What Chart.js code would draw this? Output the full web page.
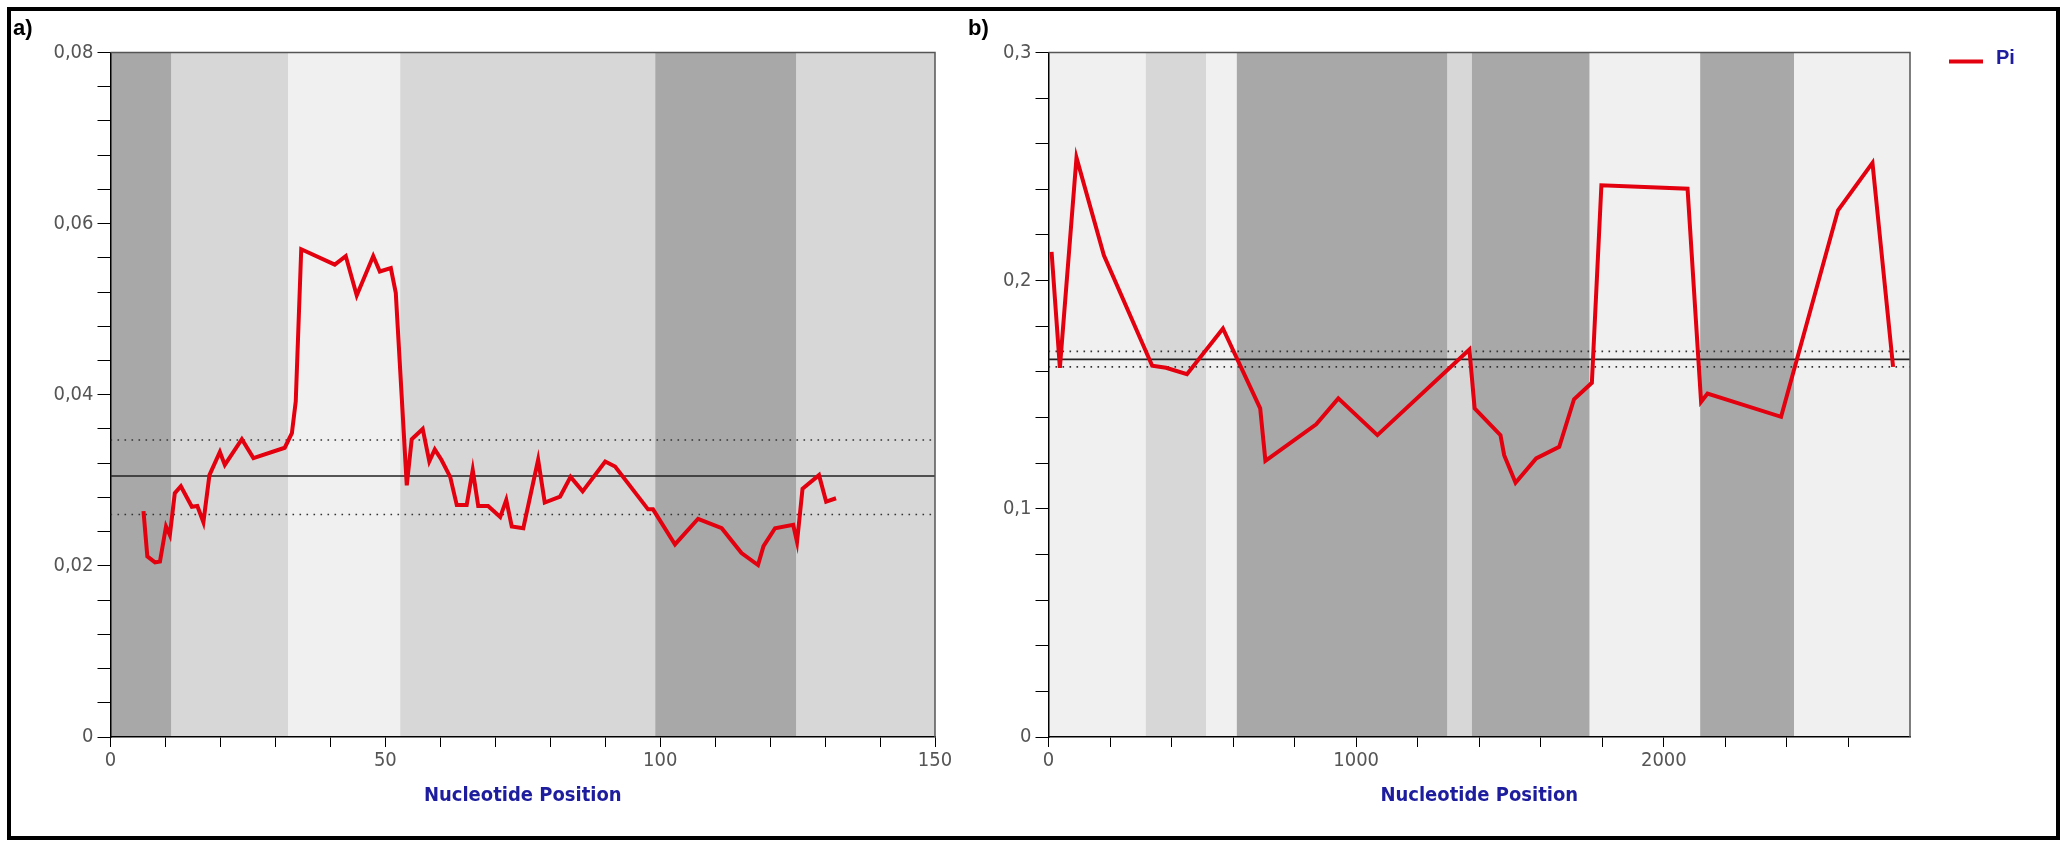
<!DOCTYPE html>
<html>
<head>
<meta charset="utf-8">
<script src="https://cdn.jsdelivr.net/npm/chart.js@4.4.0/dist/chart.umd.min.js"></script>
<style>
  html, body { margin: 0; padding: 0; background: #fff; }
  body { width: 2063px; height: 841px; position: relative; overflow: hidden; }
  #frame { position: absolute; left: 7px; top: 7px; width: 2045px; height: 825px; border: 4px solid #000; }
  canvas { position: absolute; top: 0; }
  #chartA { left: 0; }
  #chartB { left: 960px; }
</style>
</head>
<body>
<div id="frame"></div>
<canvas id="chartA" width="960" height="841"></canvas>
<canvas id="chartB" width="1103" height="841"></canvas>
<script>
// Panel a) sliding window nucleotide diversity
const aPos = [6.0, 6.7, 8.1, 9.0, 10.1, 10.8, 11.7, 12.8, 14.8, 15.8, 16.9, 18.0, 19.9, 20.8, 23.9, 26.0,
  31.7, 33.0, 33.7, 34.7, 40.8, 42.8, 44.8, 47.8, 49.0, 51.0, 51.9, 53.9, 54.8, 56.8, 58.0, 59.0,
  60.2, 61.8, 63.0, 64.8, 65.9, 66.9, 68.7, 70.9, 72.0, 73.0, 75.1, 77.8, 79.0, 81.8, 83.7, 85.9,
  90.0, 91.8, 97.8, 98.7, 102.7, 106.9, 111.2, 114.8, 117.8, 118.8, 120.9, 124.2, 124.9, 125.9,
  128.9, 130.2, 132.0];
const aPi = [0.0264, 0.0211, 0.0204, 0.0205, 0.0246, 0.0236, 0.0285, 0.0293, 0.0269, 0.0270, 0.0251, 0.0306, 0.0333, 0.0318, 0.0348, 0.0326,
  0.0338, 0.0355, 0.0392, 0.0570, 0.0552, 0.0562, 0.0516, 0.0562, 0.0544, 0.0548, 0.0519, 0.0294, 0.0348, 0.0360, 0.0322, 0.0336,
  0.0324, 0.0304, 0.0271, 0.0271, 0.0312, 0.0270, 0.0270, 0.0257, 0.0277, 0.0246, 0.0244, 0.0324, 0.0274, 0.0281, 0.0304, 0.0287,
  0.0322, 0.0316, 0.0266, 0.0266, 0.0225, 0.0255, 0.0244, 0.0215, 0.0201, 0.0223, 0.0244, 0.0248, 0.0228, 0.0290,
  0.0306, 0.0275, 0.0279];
const aMean = [0.0305, 0.0347, 0.0260];          // mean, upper, lower
const aBandEdges = [0, 11.1, 32.3, 52.7, 99.1, 124.8, 150];
const aBandTones = ['dark', 'light', 'pale', 'light', 'dark', 'light'];
const aXTicks = [0, 10, 20, 30, 40, 50, 60, 70, 80, 90, 100, 110, 120, 130, 140, 150];
const aXLabels = [0, 50, 100, 150];
const aYTicks = [0, 0.004, 0.008, 0.012, 0.016, 0.02, 0.024, 0.028, 0.032, 0.036, 0.04,
  0.044, 0.048, 0.052, 0.056, 0.06, 0.064, 0.068, 0.072, 0.076, 0.08];
const aYLabels = [0, 0.02, 0.04, 0.06, 0.08];

// Panel b)
const bPos = [10, 37, 91, 180, 337, 382, 450, 567, 688, 705, 870, 942, 1069, 1368, 1385, 1469,
  1481, 1518, 1585, 1660, 1708, 1766, 1797, 2077, 2121, 2142, 2381, 2566, 2678, 2745];
const bPi = [0.2126, 0.1618, 0.2539, 0.2111, 0.1627, 0.1618, 0.1590, 0.1790, 0.1440, 0.1210, 0.1370, 0.1484, 0.1323, 0.1698, 0.1440, 0.1323,
  0.1235, 0.1114, 0.1221, 0.1272, 0.1480, 0.1552, 0.2418, 0.2403, 0.1469, 0.1505, 0.1403, 0.2308, 0.2516, 0.1622];
const bMean = [0.1655, 0.1690, 0.1622];
const bBandEdges = [0, 316, 512, 612, 1297, 1376, 1759, 2118, 2423, 2800];
const bBandTones = ['pale', 'light', 'pale', 'dark', 'light', 'dark', 'pale', 'dark', 'pale'];
const bXTicks = [0, 200, 400, 600, 800, 1000, 1200, 1400, 1600, 1800, 2000, 2200, 2400, 2600];
const bXLabels = [0, 1000, 2000];
const bYTicks = [0, 0.02, 0.04, 0.06, 0.08, 0.1, 0.12, 0.14, 0.16, 0.18, 0.2, 0.22, 0.24, 0.26, 0.28, 0.3];
const bYLabels = [0, 0.1, 0.2, 0.3];

const TONES = { dark: '#a8a8a8', light: '#d7d7d7', pale: '#f0f0f0' };
const NARROW = "'Liberation Sans Narrow', 'DejaVu Sans Condensed', 'Arial Narrow', sans-serif";
const BLUE = '#1d1d9e';

function isLabel(list, v) {
  return list.some((l) => Math.abs(l - v) < 1e-9);
}

function makePanel(id, p) {
  const bands = {
    id: 'bands',
    beforeDraw(chart) {
      const { ctx, chartArea: ca, scales: { x } } = chart;
      ctx.save();
      p.tones.forEach((t, i) => {
        const x0 = x.getPixelForValue(p.edges[i]);
        const x1 = x.getPixelForValue(p.edges[i + 1]);
        ctx.fillStyle = TONES[t];
        ctx.fillRect(x0, ca.top, x1 - x0, ca.bottom - ca.top);
      });
      ctx.restore();
    },
    afterDraw(chart) {
      const { ctx, chartArea: ca } = chart;
      ctx.save();
      // top and right frame of the plot
      ctx.strokeStyle = '#555';
      ctx.lineWidth = 1.5;
      ctx.beginPath();
      ctx.moveTo(ca.left, ca.top);
      ctx.lineTo(ca.right, ca.top);
      ctx.lineTo(ca.right, ca.bottom);
      ctx.stroke();
      if (p.legend) {
        const ds = chart.data.datasets[0];
        const lx = ca.right + 39, ly = ca.top + 9;
        ctx.strokeStyle = ds.borderColor;
        ctx.lineWidth = 4;
        ctx.beginPath();
        ctx.moveTo(lx, ly);
        ctx.lineTo(lx + 34, ly);
        ctx.stroke();
        ctx.fillStyle = BLUE;
        ctx.font = 'bold 20px Arial';
        ctx.textBaseline = 'middle';
        ctx.fillText(ds.label, lx + 47, ly - 3);
      }
      ctx.restore();
    }
  };

  const flat = (y) => [{ x: 0, y: y }, { x: p.xMax, y: y }];
  const tickFont = { family: NARROW, size: 20 };

  return new Chart(document.getElementById(id), {
    type: 'line',
    data: {
      datasets: [
        {
          label: 'Pi',
          data: p.pos.map((v, i) => ({ x: v, y: p.pi[i] })),
          borderColor: '#e3000f',
          borderWidth: 4,
          pointRadius: 0,
          tension: 0
        },
        { label: 'mean', data: flat(p.mean[0]), borderColor: '#222', borderWidth: 1.6, pointRadius: 0 },
        { label: 'upper', data: flat(p.mean[1]), borderColor: '#333', borderWidth: 1.6, borderDash: [1.6, 5.4], pointRadius: 0 },
        { label: 'lower', data: flat(p.mean[2]), borderColor: '#333', borderWidth: 1.6, borderDash: [1.6, 5.4], pointRadius: 0 }
      ]
    },
    options: {
      responsive: false,
      maintainAspectRatio: false,
      animation: false,
      layout: { padding: { left: p.padLeft, right: p.padRight, top: 10, bottom: 0 } },
      plugins: {
        legend: { display: false },
        tooltip: { enabled: false },
        title: {
          display: true,
          text: p.title,
          align: 'start',
          color: '#000',
          font: { family: 'Arial', size: 22, weight: 'bold' },
          padding: { top: 6, bottom: 10 }
        }
      },
      scales: {
        x: {
          type: 'linear',
          min: 0,
          max: p.xMax,
          afterBuildTicks: (s) => { s.ticks = p.xTicks.map((v) => ({ value: v })); },
          afterFit: (s) => { s.height = 104; },
          grid: { drawOnChartArea: false, drawTicks: true, tickLength: 10, color: '#000' },
          border: { display: true, color: '#000', width: 1.5 },
          ticks: {
            autoSkip: false,
            maxRotation: 0,
            padding: 2,
            color: '#555',
            font: tickFont,
            callback: (v) => (isLabel(p.xLabels, v) ? String(v) : '')
          },
          title: {
            display: true,
            text: 'Nucleotide Position',
            color: BLUE,
            font: { family: NARROW, size: 20, weight: 'bold' },
            padding: { top: 0, bottom: 33 }
          }
        },
        y: {
          min: 0,
          max: p.yMax,
          afterBuildTicks: (s) => { s.ticks = p.yTicks.map((v) => ({ value: v })); },
          afterFit: (s) => { s.width = p.yWidth; },
          grid: { drawOnChartArea: false, drawTicks: true, tickLength: 13, color: '#000' },
          border: { display: true, color: '#000', width: 1.5 },
          ticks: {
            autoSkip: false,
            padding: 4,
            color: '#555',
            font: tickFont,
            callback: (v) => (isLabel(p.yLabels, v) ? (v === 0 ? '0' : v.toFixed(p.dec).replace('.', ',')) : '')
          }
        }
      }
    },
    plugins: [bands]
  });
}

makePanel('chartA', {
  title: 'a)', pos: aPos, pi: aPi, mean: aMean, edges: aBandEdges, tones: aBandTones,
  xMax: 150, xTicks: aXTicks, xLabels: aXLabels, yMax: 0.08, yTicks: aYTicks, yLabels: aYLabels,
  dec: 2, padLeft: 13, padRight: 25, yWidth: 97.5, legend: false
});

makePanel('chartB', {
  title: 'b)', pos: bPos, pi: bPi, mean: bMean, edges: bBandEdges, tones: bBandTones,
  xMax: 2800, xTicks: bXTicks, xLabels: bXLabels, yMax: 0.3, yTicks: bYTicks, yLabels: bYLabels,
  dec: 1, padLeft: 8, padRight: 153, yWidth: 80.5, legend: true
});
</script>
</body>
</html>
